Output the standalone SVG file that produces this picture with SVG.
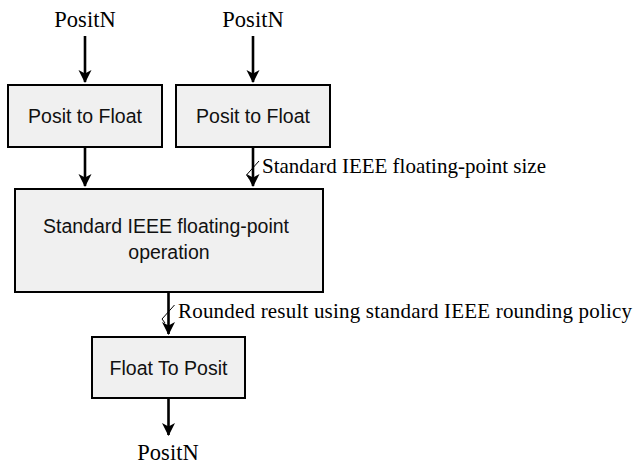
<svg xmlns="http://www.w3.org/2000/svg" width="636" height="466" viewBox="0 0 636 466">
<style>
.box{fill:#f0f0f0;stroke:#000;stroke-width:2}
.bt{font-family:"Liberation Sans",Arial,sans-serif;font-size:19.5px;fill:#111;text-anchor:middle}
.st{font-family:"Liberation Serif","Times New Roman",serif;font-size:21px;fill:#000}
.pn{font-family:"Liberation Serif","Times New Roman",serif;font-size:22.5px;fill:#000;text-anchor:middle}
.ar{stroke:#000;stroke-width:2.6;fill:none;marker-end:url(#ah)}
.tick{stroke:#000;stroke-width:1;fill:none}
</style>
<defs>
<marker id="ah" markerUnits="userSpaceOnUse" markerWidth="16" markerHeight="16" viewBox="-14 -8 16 16" refX="0" refY="0" orient="auto">
<path d="M1 0 L-12 -6.5 L-8.5 0 L-12 6.5 Z" fill="#000"/>
</marker>
</defs>
<g id="in1"><text class="pn" x="85" y="27">PositN</text></g>
<g id="in2"><text class="pn" x="253" y="27">PositN</text></g>
<g id="p2f1"><rect class="box" x="8" y="85" width="154" height="62"/><text class="bt" x="85" y="123">Posit to Float</text></g>
<g id="p2f2"><rect class="box" x="176" y="85" width="154" height="62"/><text class="bt" x="253" y="123">Posit to Float</text></g>
<g id="op"><rect class="box" x="15" y="189" width="308" height="103"/><text class="bt" x="166" y="233">Standard IEEE floating-point</text><text class="bt" x="169" y="259">operation</text></g>
<g id="f2p"><rect class="box" x="92" y="337" width="153" height="61"/><text class="bt" x="168.5" y="375">Float To Posit</text></g>
<g id="out"><text class="pn" x="168" y="460">PositN</text></g>
<g id="connectors">
<line class="ar" x1="85" y1="36" x2="85" y2="82"/>
<line class="ar" x1="253" y1="36" x2="253" y2="82"/>
<line class="ar" x1="85" y1="147" x2="85" y2="186"/>
<line class="ar" x1="253" y1="147" x2="253" y2="186"/>
<path class="tick" d="M249.5 179 L246.5 175 L259 161"/>
<text class="st" x="262" y="173">Standard IEEE floating-point size</text>
<line class="ar" x1="168.5" y1="292" x2="168.5" y2="334"/>
<line class="ar" x1="168.5" y1="398" x2="168.5" y2="435"/>
<path class="tick" d="M165 323 L162 319 L174.5 305"/>
<text class="st" x="178" y="318" textLength="454" lengthAdjust="spacing">Rounded result using standard IEEE rounding policy</text>
</g>
</svg>
